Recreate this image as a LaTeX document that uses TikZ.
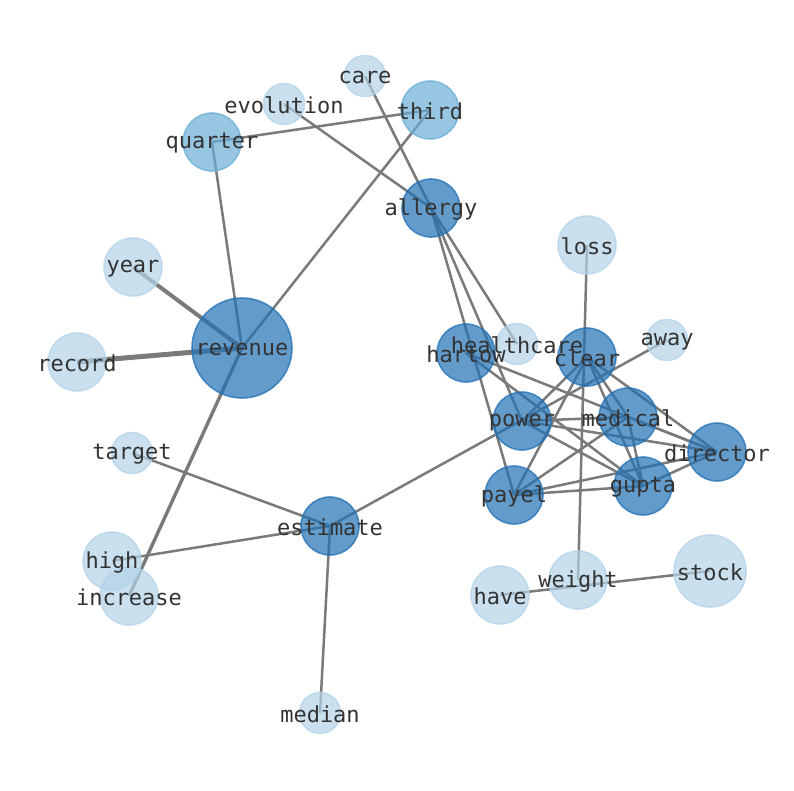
\documentclass[tikz,border=0pt]{standalone}
\usepackage{fontspec}
\setmonofont{DejaVu Sans Mono}
\usetikzlibrary{backgrounds}
\definecolor{hotblue}{HTML}{2171B5}
\definecolor{midblue}{HTML}{6BAED6}
\definecolor{paleblue}{HTML}{B3D3E8}
\definecolor{linkgray}{HTML}{7A7A7A}
\definecolor{wordgray}{HTML}{333333}

\begin{document}
\begin{tikzpicture}[x=1pt,y=-1pt,
    blob/.style={circle,inner sep=0pt,line width=1.6pt,fill opacity=0.7,draw opacity=0.75},
    hot/.style={blob,fill=hotblue,draw=hotblue,minimum size=58pt},
    mid/.style={blob,fill=midblue,draw=midblue,minimum size=58pt},
    pale/.style={blob,fill=paleblue,draw=paleblue,minimum size=58pt},
    tiny/.style={minimum size=41pt},
    word/.style={inner sep=0pt,yshift=-1.5pt,text=wordgray,font=\ttfamily\fontsize{22}{24}\selectfont},
    link/.style={draw=linkgray,line width=2.5pt}]
    \useasboundingbox (0,0) rectangle (794,790);

    % Words
    \node[pale,tiny] (care) at (365,76) {};
    \node[pale,tiny] (evolution) at (284,104) {};
    \node[mid] (third) at (430,110) {};
    \node[mid] (quarter) at (212,142) {};
    \node[hot] (allergy) at (431,208) {};
    \node[pale] (loss) at (587,245) {};
    \node[pale] (year) at (133,267) {};
    \node[hot,minimum size=100pt] (revenue) at (242,348) {};
    \node[pale] (record) at (77,362) {};
    \node[pale,tiny] (healthcare) at (517,344) {};
    \node[hot] (hartow) at (466,353) {};
    \node[hot] (clear) at (587,357) {};
    \node[pale,tiny] (away) at (667,340) {};
    \node[hot] (power) at (522,421) {};
    \node[hot] (medical) at (628,417) {};
    \node[hot] (director) at (717,452) {};
    \node[pale,tiny] (target) at (132,453) {};
    \node[hot] (payel) at (514,495) {};
    \node[hot] (gupta) at (643,486) {};
    \node[hot] (estimate) at (330,526) {};
    \node[pale] (high) at (112,561) {};
    \node[pale] (increase) at (129,596) {};
    \node[pale] (weight) at (578,580) {};
    \node[pale] (have) at (500,595) {};
    \node[pale,minimum size=72pt] (stock) at (710,571) {};
    \node[pale,tiny] (median) at (320,713) {};

    % Links
    \begin{scope}[on background layer]
    \draw[link,line width=5pt] (revenue.center) -- (record.center);
    \draw[link,line width=4pt] (revenue.center) -- (year.center);
    \draw[link,line width=3.4pt] (revenue.center) -- (increase.center);
    \draw[link] (revenue.center) -- (quarter.center);
    \draw[link] (revenue.center) -- (third.center);
    \draw[link] (quarter.center) -- (third.center);
    \draw[link] (evolution.center) -- (allergy.center);
    \draw[link] (care.center) -- (allergy.center);
    \draw[link] (allergy.center) -- (payel.center);
    \draw[link] (allergy.center) -- (power.center);
    \draw[link] (allergy.center) -- (healthcare.center);
    \draw[link] (hartow.center) -- (director.center);
    \draw[link] (hartow.center) -- (gupta.center);
    \draw[link] (clear.center) -- (power.center);
    \draw[link] (clear.center) -- (payel.center);
    \draw[link] (clear.center) -- (medical.center);
    \draw[link] (clear.center) -- (gupta.center);
    \draw[link] (clear.center) -- (director.center);
    \draw[link] (power.center) -- (medical.center);
    \draw[link] (power.center) -- (director.center);
    \draw[link] (power.center) -- (gupta.center);
    \draw[link] (payel.center) -- (medical.center);
    \draw[link] (payel.center) -- (gupta.center);
    \draw[link] (payel.center) -- (director.center);
    \draw[link] (medical.center) -- (gupta.center);
    \draw[link] (medical.center) -- (director.center);
    \draw[link] (gupta.center) -- (director.center);
    \draw[link] (estimate.center) -- (away.center);
    \draw[link] (loss.center) -- (weight.center);
    \draw[link] (have.center) -- (stock.center);
    \draw[link] (estimate.center) -- (target.center);
    \draw[link] (estimate.center) -- (high.center);
    \draw[link] (estimate.center) -- (median.center);
    \end{scope}

    % Labels
    \foreach \w in {care,evolution,third,quarter,allergy,loss,year,revenue,
        record,healthcare,hartow,clear,away,power,medical,director,target,
        payel,gupta,estimate,high,increase,weight,have,stock,median}
        \node[word] (\w-txt) at (\w) {\w};
\end{tikzpicture}
\end{document}
